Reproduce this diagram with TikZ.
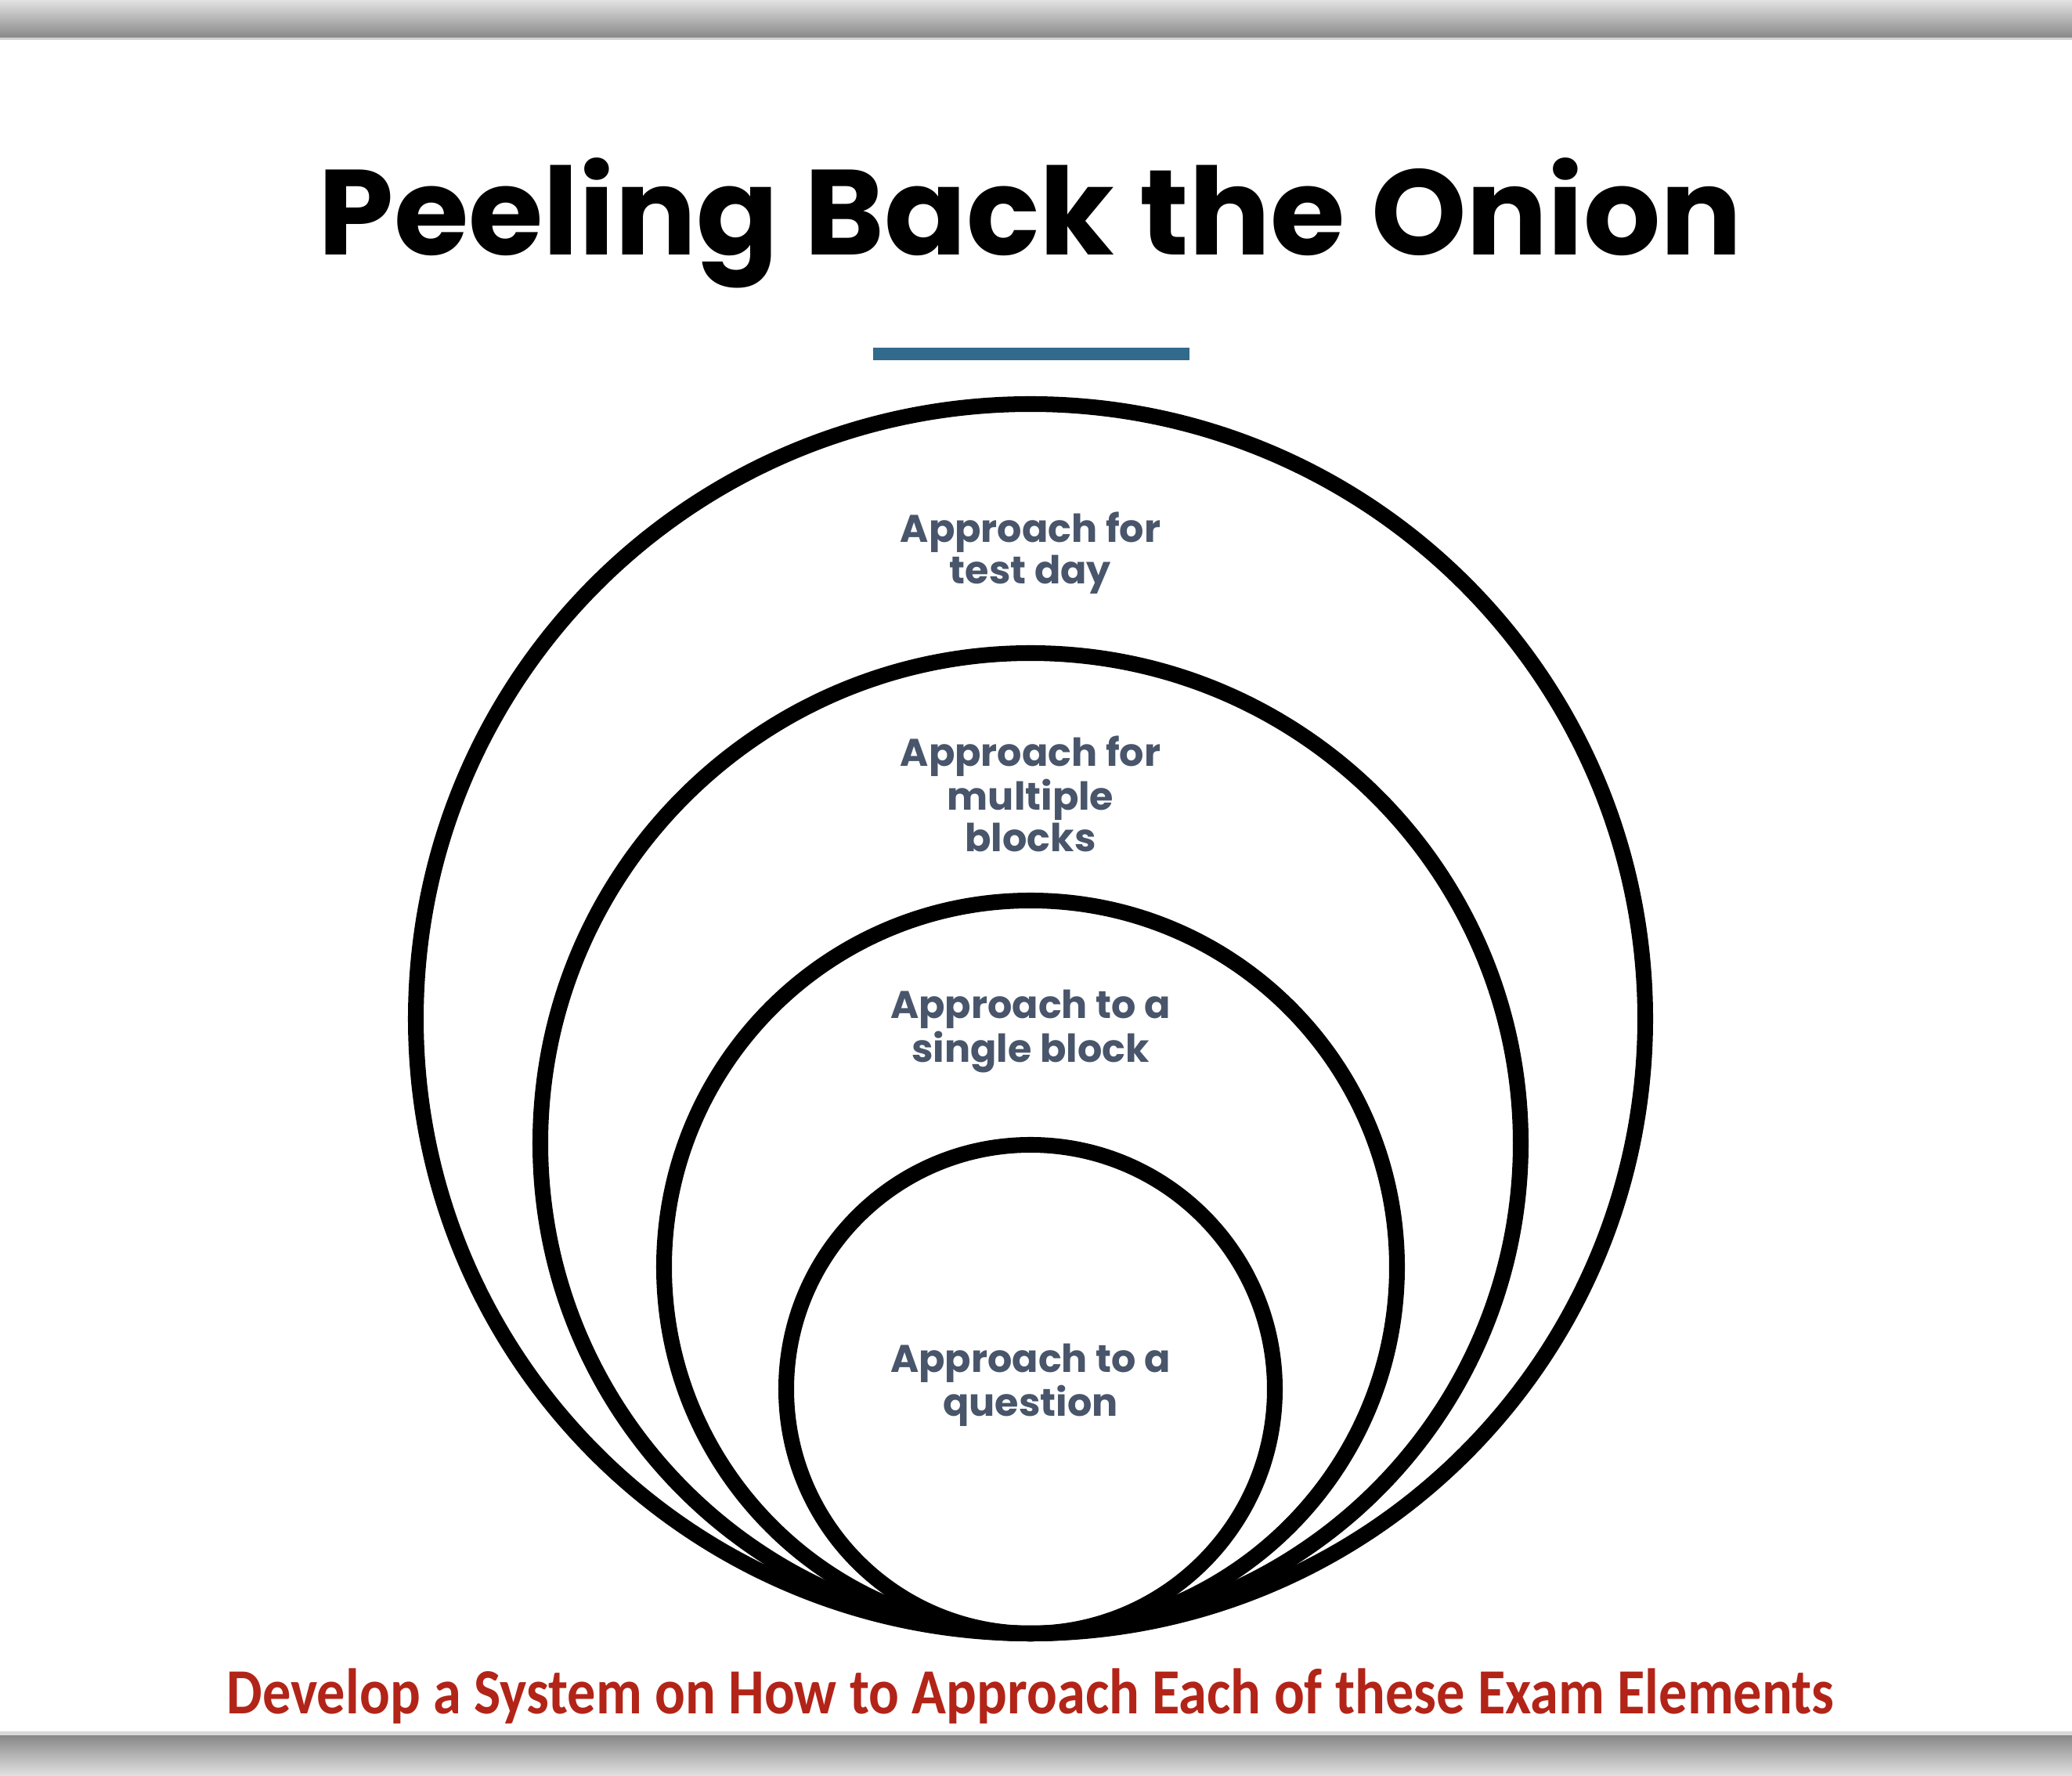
\documentclass[tikz,border=0pt]{standalone}
\usepackage{fontspec}
\setmainfont{Poppins}
\newfontfamily\notefont{Carlito}
\usetikzlibrary{positioning}
\definecolor{barblue}{RGB}{50,106,140}
\definecolor{slate}{RGB}{72,85,106}
\definecolor{notered}{RGB}{178,36,24}
\definecolor{bargray}{RGB}{136,136,136}
\definecolor{barlight}{RGB}{226,226,226}
\begin{document}
\begin{tikzpicture}[
    ring/.style={circle, draw=black, line width=5.7pt, outer sep=0pt, inner sep=0pt},
    layer/.style={text=slate, align=center, font=\fontsize{14}{11.8}\selectfont\bfseries}
  ]
      \useasboundingbox (0,0) rectangle (26.46,22.68);
      % frame bars
      \shade[top color=barlight, bottom color=bargray] (0,22.20) rectangle (26.46,22.68);
      \fill[gray!35] (0,22.17) rectangle (26.46,22.20);
      \shade[top color=bargray, bottom color=barlight] (0,0) rectangle (26.46,0.52);
      \fill[gray!30] (0,0.52) rectangle (26.46,0.57);
      % title
      \node[anchor=base, font=\fontsize{44}{44}\selectfont\bfseries] (title) at (13.16,19.42) {Peeling Back the Onion};
      \fill[barblue] (11.15,18.08) rectangle (15.19,18.24);
      % onion
      \coordinate (base) at (13.16,1.82);
      \node[ring, minimum size=15.70cm, anchor=south] (day) at (base) {};
      \node[ring, minimum size=12.52cm, anchor=south] (blocks) at (base) {};
      \node[ring, minimum size=9.36cm, anchor=south] (block) at (base) {};
      \node[ring, minimum size=6.24cm, anchor=south] (question) at (base) {};
      \node[layer] (daytext) at (13.16,15.62) {Approach for\\test day};
      \node[layer] (blockstext) at (13.16,12.54) {Approach for\\multiple\\blocks};
      \node[layer] (blocktext) at (13.16,9.51) {Approach to a\\single block};
      \node[layer] (questiontext) at (13.16,4.99) {Approach to a\\question};
      % footer
      \node[anchor=base, text=notered, font=\notefont\fontsize{23.4}{24}\selectfont\bfseries] (note) at (13.16,0.79) {\scalebox{0.88}[1]{Develop a System on How to Approach Each of these Exam Elements}};
    \end{tikzpicture}
\end{document}
